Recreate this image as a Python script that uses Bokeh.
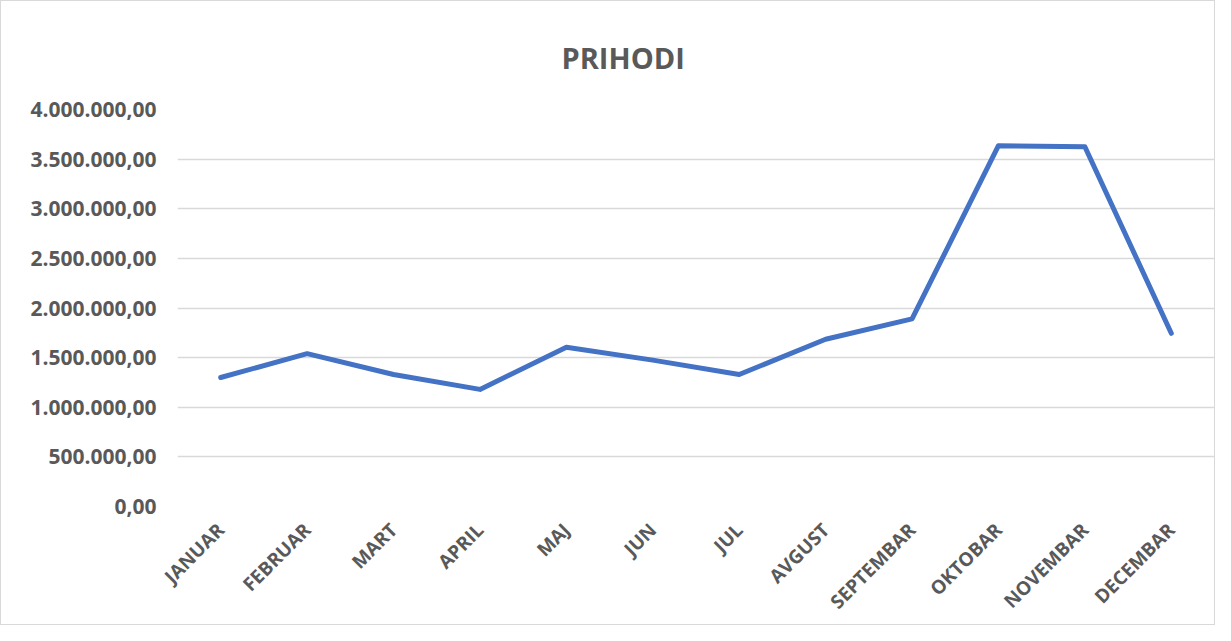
import math
from bokeh.plotting import figure
from bokeh.models import CustomJSTickFormatter, FixedTicker, Range1d
from bokeh.embed import file_html
from bokeh.resources import INLINE

months = ["JANUAR", "FEBRUAR", "MART", "APRIL", "MAJ", "JUN", "JUL", "AVGUST",
          "SEPTEMBAR", "OKTOBAR", "NOVEMBAR", "DECEMBAR"]
prihodi = [1300000, 1540000, 1330000, 1180000, 1605000, 1475000, 1330000,
           1685000, 1890000, 3635000, 3625000, 1745000]
y_ticks = [0, 500000, 1000000, 1500000, 2000000, 2500000, 3000000, 3500000, 4000000]

TEXT = "#595959"
FONT = "Open Sans"

p = figure(x_range=months, width=1215, height=625, output_backend="svg",
           toolbar_location=None, tools="", title="PRIHODI")
p.y_range = Range1d(0, 4000000)
p.min_border_left = 176
p.min_border_right = 2
p.min_border_top = 108
p.min_border_bottom = 115
p.outline_line_color = None
p.background_fill_color = "white"
p.border_fill_color = "white"

p.title.align = "left"
p.title.offset = 384
p.title.standoff = 66
p.title.text_font = FONT
p.title.text_font_style = "bold"
p.title.text_font_size = "29px"
p.title.text_color = TEXT

p.line(months, prihodi, line_color="#4472C4", line_width=5, line_cap="round",
       line_join="round")

p.xgrid.grid_line_color = None
p.ygrid.grid_line_color = "#D9D9D9"
p.ygrid.grid_line_width = 1.5

p.yaxis.ticker = FixedTicker(ticks=y_ticks)
p.yaxis.formatter = CustomJSTickFormatter(code="""
    const s = Math.round(tick).toString().replace(/\\B(?=(\\d{3})+(?!\\d))/g, '.');
    return s + ',00';
""")
for ax in (p.xaxis, p.yaxis):
    ax.axis_line_color = None
    ax.major_tick_line_color = None
    ax.minor_tick_line_color = None
    ax.major_label_text_font = FONT
    ax.major_label_text_font_style = "bold"
    ax.major_label_text_color = TEXT
p.yaxis.major_label_text_font_size = "21px"
p.yaxis.major_label_standoff = 15
p.xaxis.major_label_text_font_size = "19px"
p.xaxis.major_label_orientation = math.pi / 4
p.xaxis.major_label_standoff = 14

p.styles = {"border": "1px solid #D9D9D9"}

open("out.html", "w").write(file_html(p, INLINE))
